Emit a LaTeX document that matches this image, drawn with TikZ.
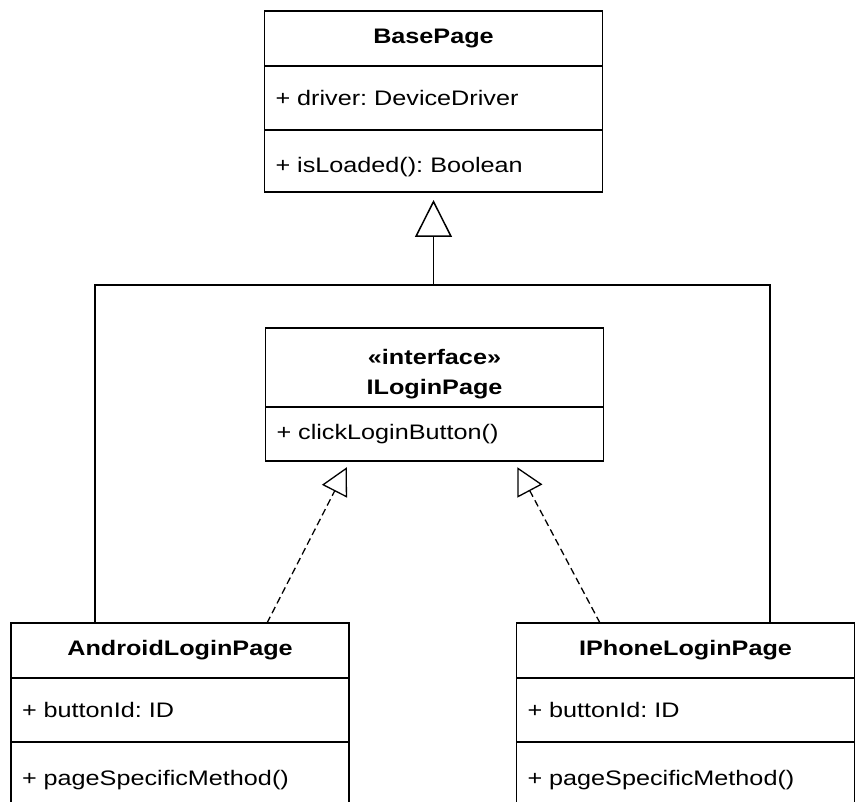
\documentclass[tikz,border=0pt]{standalone}
\usepackage{fontspec}
\setmainfont{Liberation Sans}[FakeStretch=1.2]
\usetikzlibrary{arrows.meta,positioning}
\frenchspacing

\begin{document}
\begin{tikzpicture}[x=1pt, y=-1pt,
  hd/.style={draw, line width=1.5pt, inner sep=0pt, outer sep=0pt, align=center, minimum width=338pt, font=\fontsize{21}{30}\selectfont\bfseries, anchor=north},
  mb/.style={draw, line width=1.5pt, inner xsep=11pt, inner ysep=0pt, outer sep=0pt, text width=316pt, align=left, font=\fontsize{21}{26}\selectfont, anchor=north},
  gen/.style={-{Triangle[open, length=37pt, width=37pt]}, line width=1.5pt, shorten >=8pt},
  real/.style={-{Triangle[open, length=27pt, width=28pt]}, line width=1.3pt, dash pattern=on 7pt off 4pt, shorten >=7pt}
]
  \clip (0,0) rectangle (859,802);
  % BasePage
  \node[hd, minimum height=55pt] (base) at (433.5,11) {BasePage};
  \node[mb, minimum height=64pt, below=0pt of base] (baseattr) {+ driver: DeviceDriver};
  \node[mb, minimum height=62pt, below=0pt of baseattr] (basemeth) {\strut\\[-16pt]+ isLoaded(): Boolean};
  % ILoginPage
  \node[hd, minimum height=79pt] (ilogin) at (434.5,328) {\strut\\[-22pt]«interface»\\ILoginPage};
  \node[mb, minimum height=54pt, below=0pt of ilogin] (iloginmeth) {+ clickLoginButton()};
  % AndroidLoginPage
  \node[hd, minimum height=55pt] (android) at (180,623) {AndroidLoginPage};
  \node[mb, minimum height=64pt, below=0pt of android] (androidattr) {+ buttonId: ID};
  \node[mb, minimum height=64pt, below=0pt of androidattr] (androidmeth) {\strut\\[-16pt]+ pageSpecificMethod()};
  % IPhoneLoginPage
  \node[hd, minimum height=55pt] (iphone) at (685.5,623) {IPhoneLoginPage};
  \node[mb, minimum height=64pt, below=0pt of iphone] (iphoneattr) {+ buttonId: ID};
  \node[mb, minimum height=64pt, below=0pt of iphoneattr] (iphonemeth) {\strut\\[-16pt]+ pageSpecificMethod()};
  % inheritance
  \coordinate (lft) at (95,285);
  \coordinate (rgt) at (770,285);
  \coordinate (joint) at (433.5,285);
  \draw[line width=1.5pt] (android.north -| lft) -- (lft) -- (rgt) -- (iphone.north -| rgt);
  \draw[gen] (joint) -- (basemeth.south);
  % realization
  \draw[real] (android.north -| 267,0) -- (iloginmeth.south -| 350,0);
  \draw[real] (iphone.north -| 600,0) -- (iloginmeth.south -| 514,0);
\end{tikzpicture}
\end{document}
